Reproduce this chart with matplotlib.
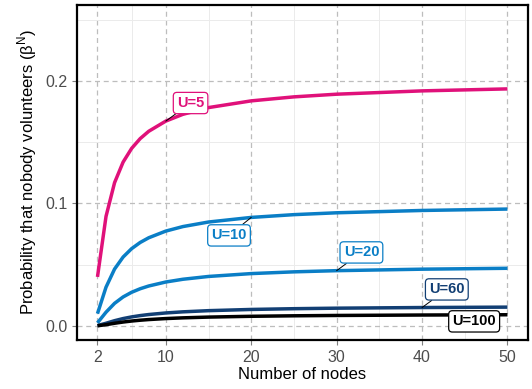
import numpy as np
import matplotlib
matplotlib.use("Agg")
import matplotlib.pyplot as plt
from matplotlib.ticker import FixedLocator

plt.rcParams["font.family"] = ["Liberation Sans", "DejaVu Sans"]
plt.rcParams["mathtext.fontset"] = "custom"
plt.rcParams["mathtext.rm"] = "Liberation Sans"

# number of nodes
nodes = [2, 3, 4, 5, 6, 7, 8, 10, 12, 15, 20, 25, 30, 40, 50]

# probability that nobody volunteers, per cost ratio U
p_u5 = [0.04, 0.08944, 0.11696, 0.13375, 0.14496, 0.15295, 0.15892, 0.16725,
        0.17278, 0.17828, 0.18376, 0.18703, 0.18921, 0.19192, 0.19354]
p_u10 = [0.01, 0.031623, 0.046416, 0.056234, 0.063096, 0.068129, 0.071969, 0.077426,
         0.081113, 0.084834, 0.088587, 0.090852, 0.092367, 0.094267, 0.095410]
p_u20 = [0.0025, 0.011180, 0.018420, 0.023644, 0.027464, 0.030347, 0.032591, 0.035853,
         0.038090, 0.040379, 0.042718, 0.044144, 0.045105, 0.046316, 0.047048]
p_u60 = [0.000278, 0.002152, 0.004258, 0.005991, 0.007350, 0.008424, 0.009287, 0.010576,
         0.011488, 0.012442, 0.013437, 0.014054, 0.014474, 0.015005, 0.015330]
p_u100 = [0.0001, 0.001, 0.0021544, 0.0031623, 0.0039811, 0.0046416, 0.0051795, 0.0059948,
          0.0065793, 0.0071969, 0.0078476, 0.0082540, 0.0085317, 0.0088862, 0.0091030]

labels = ["U=5", "U=10", "U=20", "U=60", "U=100"]
series = [p_u5, p_u10, p_u20, p_u60, p_u100]
colors = ["#E0117A", "#0A7EC6", "#0A7EC6", "#123F74", "#000000"]

# label placement (data coords) and which node the leader line points to
label_pos = [(12.9, 0.182), (17.4, 0.0739), (32.9, 0.060), (42.9, 0.0298), (46.1, 0.0037)]
leader_node = [10, 20, 30, 40, None]

fig = plt.figure(figsize=(5.32, 3.89), dpi=100)
ax = fig.add_axes([0.1447, 0.126, 0.8477, 0.861])

for y, c in zip(series, colors):
    ax.plot(nodes, y, color=c, lw=2.5, solid_capstyle="butt", zorder=3)

for lab, y, c, pos, ln in zip(labels, series, colors, label_pos, leader_node):
    bbox = dict(boxstyle="round,pad=0.25,rounding_size=0.25", fc="white", ec=c, lw=0.9)
    if ln is not None:
        xy = (ln, y[nodes.index(ln)])
        ax.annotate(lab, xy=xy, xytext=pos, ha="center", va="center",
                    fontsize=10.5, fontweight="bold", color=c, bbox=bbox, zorder=5,
                    arrowprops=dict(arrowstyle="-", color="black", lw=0.7,
                                    shrinkA=0, shrinkB=0))
    else:
        ax.text(pos[0], pos[1], lab, ha="center", va="center", fontsize=10.5,
                fontweight="bold", color=c, bbox=bbox, zorder=5)

ax.set_xlim(-0.4, 52.4)
ax.set_ylim(-0.0115, 0.262)
ax.xaxis.set_major_locator(FixedLocator([2, 10, 20, 30, 40, 50]))
ax.xaxis.set_minor_locator(FixedLocator([6, 15, 25, 35, 45]))
ax.yaxis.set_major_locator(FixedLocator([0.0, 0.1, 0.2]))
ax.yaxis.set_minor_locator(FixedLocator([0.05, 0.15, 0.25]))
ax.set_yticklabels(["0.0", "0.1", "0.2"])

ax.grid(which="major", color="#BDBDBD", lw=0.9, linestyle=(0, (4, 3)), zorder=0)
ax.grid(which="minor", color="#EBEBEB", lw=0.7, linestyle="-", zorder=0)
ax.set_axisbelow(True)

ax.tick_params(which="major", length=3.5, width=0.8, color="#7F7F7F",
               labelsize=11.5, labelcolor="#4D4D4D")
ax.tick_params(which="minor", length=0)
for s in ax.spines.values():
    s.set_linewidth(1.6)
    s.set_color("black")

ax.set_xlabel("Number of nodes", fontsize=12, labelpad=2)
ax.set_ylabel(r"Probability that nobody volunteers (β$^{\mathrm{N}}$)", fontsize=12, labelpad=4)

fig.savefig("out.png", dpi=100)
